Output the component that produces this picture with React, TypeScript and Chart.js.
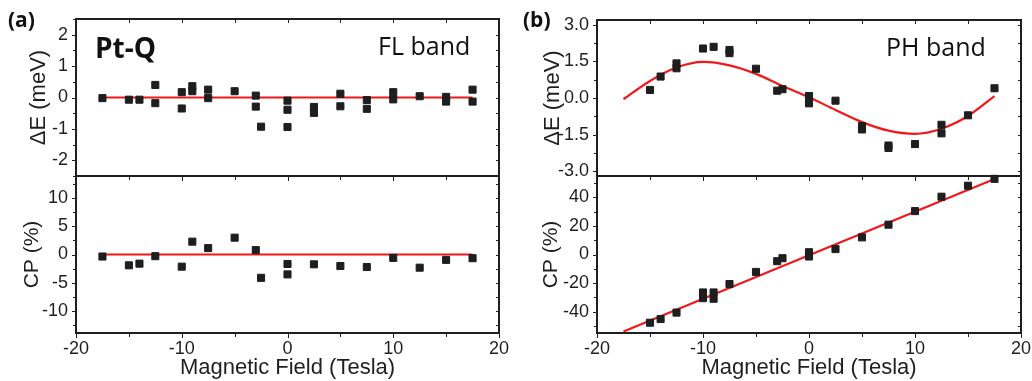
import React, { useEffect, useRef, useState } from 'react';
import { Chart, registerables } from 'chart.js';

Chart.register(...registerables);

// ---------- data ----------
const X_MAJOR = [-20, -10, 0, 10, 20];
const X_ALL_TICKS = [-20, -15, -10, -5, 0, 5, 10, 15, 20];

// Panel (a) FL band, ΔE
const FL_DE_X = [-17.5, -15, -14, -12.5, -12.5, -10, -10, -9, -9, -7.5, -7.5, -5, -3, -3, -2.5, 0, 0, 0, 2.5, 2.5, 5, 5, 7.5, 7.5, 10, 10, 12.5, 15, 15, 17.5, 17.5];
const FL_DE_Y = [-0.02, -0.07, -0.07, 0.4, -0.18, 0.17, -0.35, 0.36, 0.2, 0.25, -0.02, 0.2, 0.06, -0.29, -0.93, -0.1, -0.39, -0.94, -0.3, -0.49, 0.12, -0.28, -0.08, -0.36, 0.17, -0.06, 0.04, 0.02, -0.13, 0.25, -0.13];
const FL_DE_FIT_X = [-17.5, 17.5];
const FL_DE_FIT_Y = [0, 0];
const FL_DE_MAJOR = [-2, -1, 0, 1, 2];
const FL_DE_ALL = [-2.5, -2, -1.5, -1, -0.5, 0, 0.5, 1, 1.5, 2, 2.5];

// Panel (a) FL band, CP
const FL_CP_X = [-17.5, -15, -14, -12.5, -10, -9, -7.5, -5, -3, -2.5, 0, 0, 2.5, 5, 7.5, 10, 12.5, 15, 17.5];
const FL_CP_Y = [-0.36, -1.93, -1.63, -0.3, -2.17, 2.29, 1.14, 3.0, 0.78, -4.16, -1.69, -3.55, -1.75, -2.05, -2.23, -0.6, -2.35, -0.96, -0.66];
const FL_CP_FIT_X = [-17.5, 17.5];
const FL_CP_FIT_Y = [0, 0];
const FL_CP_MAJOR = [-10, -5, 0, 5, 10];
const FL_CP_ALL = [-12.5, -10, -7.5, -5, -2.5, 0, 2.5, 5, 7.5, 10, 12.5];

// Panel (b) PH band, ΔE
const PH_DE_X = [-15, -14, -12.5, -12.5, -10, -9, -7.5, -7.5, -5, -3, -2.5, 0, 0, 2.5, 5, 5, 7.5, 7.5, 10, 12.5, 12.5, 15, 17.5];
const PH_DE_Y = [0.33, 0.88, 1.42, 1.22, 2.03, 2.1, 1.97, 1.84, 1.2, 0.3, 0.36, 0.08, -0.22, -0.11, -1.15, -1.29, -1.95, -2.05, -1.89, -1.1, -1.45, -0.71, 0.4];
const PH_DE_FIT_X = [-17.5, -15, -12.5, -10, -7.5, -5, -2.5, 0, 2.5, 5, 7.5, 10, 12.5, 15, 17.5];
const PH_DE_FIT_Y = [-0.05, 0.7, 1.25, 1.48, 1.34, 0.99, 0.49, 0.03, -0.49, -0.99, -1.34, -1.47, -1.26, -0.74, 0.08];
const PH_DE_MAJOR = [-3, -1.5, 0, 1.5, 3];
const PH_DE_ALL = [-3, -2.25, -1.5, -0.75, 0, 0.75, 1.5, 2.25, 3];

// Panel (b) PH band, CP
const PH_CP_X = [-15, -14, -12.5, -10, -10, -9, -9, -7.5, -5, -3, -2.5, 0, 0, 2.5, 5, 7.5, 10, 12.5, 15, 17.5];
const PH_CP_Y = [-47.8, -45.2, -40.7, -26.6, -30.6, -26.6, -31, -20.7, -12.2, -4.7, -2.6, 1.6, -1.4, 3.8, 12, 20.9, 30.4, 40.5, 48.2, 53];
const PH_CP_FIT_X = [-17.5, 17.5];
const PH_CP_FIT_Y = [-53.9, 52.9];
const PH_CP_MAJOR = [-40, -20, 0, 20, 40];
const PH_CP_ALL = [-50, -40, -30, -20, -10, 0, 10, 20, 30, 40, 50];

// ---------- styles ----------
const FONT = "'Liberation Sans', Arial, sans-serif";
const LABEL_FONT = "'Open Sans', 'Noto Sans', sans-serif";
const INK = '#1f1f1f';
const RED = '#f2171b';
const MARK = '#1e1e1e';

const near = (a: number, b: number) => Math.abs(a - b) < 1e-6;
const isMajor = (list: number[], v: number) => list.some((m) => near(m, v));

type TextItem = { text: string; x: number; y: number; font: string };

type PanelSpec = {
  px: number[];
  py: number[];
  fx: number[];
  fy: number[];
  smooth: boolean;
  yMin: number;
  yMax: number;
  yMajor: number[];
  yAll: number[];
  yFmt: (v: number) => string;
  yTitle: string;
  yTitleSize: number;
  yTitleCenter: number;
  yWidth: number;
  showX: boolean;
  xHeight: number;
  padding: { top: number; right: number; left: number; bottom: number };
  texts: TextItem[];
};

function makeTextPlugin(spec: PanelSpec) {
  return {
    id: 'panelText',
    afterDraw(chart: any) {
      const ctx = chart.ctx;
      ctx.save();
      ctx.fillStyle = '#111';
      ctx.textBaseline = 'alphabetic';
      ctx.textAlign = 'left';
      spec.texts.forEach((it) => {
        ctx.font = it.font;
        ctx.fillText(it.text, it.x, it.y);
      });
      ctx.restore();
    },
  };
}

function makeConfig(s: PanelSpec): any {
  const pts = s.px.map((x, i) => ({ x, y: s.py[i] }));
  const fit = s.fx.map((x, i) => ({ x, y: s.fy[i] }));
  return {
    type: 'scatter',
    data: {
      datasets: [
        {
          data: pts,
          pointStyle: 'rect',
          pointRadius: 5,
          borderWidth: 1,
          backgroundColor: MARK,
          borderColor: MARK,
          showLine: false,
          clip: false,
        },
        {
          data: fit,
          showLine: true,
          borderColor: RED,
          borderWidth: 2.2,
          pointRadius: 0,
          cubicInterpolationMode: s.smooth ? 'monotone' : 'default',
          fill: false,
          clip: false,
        },
      ],
    },
    options: {
      responsive: false,
      animation: false,
      layout: { padding: s.padding },
      plugins: {
        legend: { display: false },
        tooltip: { enabled: false },
      },
      scales: {
        x: {
          type: 'linear',
          min: -20,
          max: 20,
          grid: { display: false, drawTicks: false },
          border: { display: false },
          afterBuildTicks: (sc: any) => {
            sc.ticks = X_MAJOR.map((v) => ({ value: v }));
          },
          ticks: {
            display: s.showX,
            autoSkip: false,
            maxRotation: 0,
            padding: 5,
            color: INK,
            font: { family: FONT, size: 18 },
            callback: (v: any) => String(v),
          },
          title: {
            display: s.showX,
            text: 'Magnetic Field (Tesla)',
            color: INK,
            font: { family: FONT, size: 22, lineHeight: 1 },
            padding: { top: 0, bottom: 2 },
          },
          afterFit: (sc: any) => {
            sc.height = s.xHeight;
          },
        },
        y: {
          type: 'linear',
          min: s.yMin,
          max: s.yMax,
          grid: { display: false, drawTicks: false },
          border: { display: false },
          afterBuildTicks: (sc: any) => {
            sc.ticks = s.yMajor.map((v) => ({ value: v }));
          },
          ticks: {
            autoSkip: false,
            padding: 8,
            color: INK,
            font: { family: FONT, size: 18 },
            callback: (v: any) => s.yFmt(Number(v)),
          },
          title: {
            display: true,
            text: s.yTitle,
            color: INK,
            font: { family: FONT, size: s.yTitleSize, lineHeight: 1 },
            padding: { top: s.yTitleCenter - s.yTitleSize / 2, bottom: 0 },
          },
          afterFit: (sc: any) => {
            sc.width = s.yWidth;
          },
        },
      },
    },
    plugins: [makeTextPlugin(s)],
  };
}

type Geom = {
  L: number;
  R: number;
  T: number;
  B: number;
  xt: { p: number; major: boolean }[];
  yt: { p: number; major: boolean }[];
};

function Panel({ left, top, width, height, spec }: { left: number; top: number; width: number; height: number; spec: PanelSpec }) {
  const ref = useRef<HTMLCanvasElement>(null);
  const [geom, setGeom] = useState<Geom | null>(null);
  useEffect(() => {
    const chart: any = new Chart(ref.current as HTMLCanvasElement, makeConfig(spec));
    const a = chart.chartArea;
    const xs = chart.scales.x;
    const ys = chart.scales.y;
    setGeom({
      L: Math.round(a.left),
      R: Math.round(a.right),
      T: Math.round(a.top),
      B: Math.round(a.bottom),
      xt: X_ALL_TICKS.map((v) => ({ p: Math.round(xs.getPixelForValue(v)), major: isMajor(X_MAJOR, v) })),
      yt: spec.yAll.map((v) => ({ p: Math.round(ys.getPixelForValue(v)), major: isMajor(spec.yMajor, v) })),
    });
    return () => chart.destroy();
  }, []);

  const line = (key: string, x: number, y: number, w: number, h: number) => (
    <div key={key} style={{ position: 'absolute', left: left + x, top: top + y, width: w, height: h, background: INK }} />
  );

  const overlay: React.ReactNode[] = [];
  if (geom) {
    const { L, R, T, B } = geom;
    const W = 1.5;
    overlay.push(line('ft', L - W / 2, T - W / 2, R - L + W, W));
    overlay.push(line('fb', L - W / 2, B - W / 2, R - L + W, W));
    overlay.push(line('fl', L - W / 2, T - W / 2, W, B - T + W));
    overlay.push(line('fr', R - W / 2, T - W / 2, W, B - T + W));
    geom.xt.forEach((t, i) => {
      overlay.push(line('xb' + i, t.p - 0.5, B, 1, t.major ? 4.5 : 3.5));
      overlay.push(line('xt' + i, t.p - 0.5, T, 1, 3.5));
    });
    geom.yt.forEach((t, i) => {
      const len = t.major ? 4.5 : 3;
      overlay.push(line('yl' + i, L - len, t.p - 0.5, len, 1));
      overlay.push(line('yr' + i, R - 3.5, t.p - 0.5, 3.5, 1));
    });
  }

  return (
    <>
      <canvas
        ref={ref}
        width={width}
        height={height}
        style={{ position: 'absolute', left, top, width, height }}
      />
      {overlay}
    </>
  );
}

const intFmt = (v: number) => String(v);
const oneDec = (v: number) => v.toFixed(1);

// canvases: top panels start at y=-20 (clipped), bottom panels at y=146
export default function App() {
  const aTop: PanelSpec = {
    px: FL_DE_X, py: FL_DE_Y, fx: FL_DE_FIT_X, fy: FL_DE_FIT_Y, smooth: false,
    yMin: -2.5, yMax: 2.5, yMajor: FL_DE_MAJOR, yAll: FL_DE_ALL, yFmt: intFmt,
    yTitle: 'ΔE (meV)', yTitleSize: 22, yTitleCenter: 39, yWidth: 76, showX: false, xHeight: 30,
    padding: { top: 39, right: 21, left: 0, bottom: 0 },
    texts: [
      { text: '(a)', x: 8, y: 47, font: `bold 21px ${LABEL_FONT}` },
      { text: 'Pt-Q', x: 95, y: 78, font: `bold 28px ${LABEL_FONT}` },
      { text: 'FL band', x: 378, y: 75, font: `25px ${LABEL_FONT}` },
    ],
  };
  const aBot: PanelSpec = {
    px: FL_CP_X, py: FL_CP_Y, fx: FL_CP_FIT_X, fy: FL_CP_FIT_Y, smooth: false,
    yMin: -14, yMax: 14, yMajor: FL_CP_MAJOR, yAll: FL_CP_ALL, yFmt: intFmt,
    yTitle: 'CP (%)', yTitleSize: 21, yTitleCenter: 32, yWidth: 76, showX: true, xHeight: 48,
    padding: { top: 30, right: 21, left: 0, bottom: 0 },
    texts: [],
  };
  const bTop: PanelSpec = {
    px: PH_DE_X, py: PH_DE_Y, fx: PH_DE_FIT_X, fy: PH_DE_FIT_Y, smooth: true,
    yMin: -3.2, yMax: 3.2, yMajor: PH_DE_MAJOR, yAll: PH_DE_ALL, yFmt: oneDec,
    yTitle: 'ΔE (meV)', yTitleSize: 22, yTitleCenter: 33, yWidth: 77, showX: false, xHeight: 30,
    padding: { top: 40, right: 21, left: 0, bottom: 0 },
    texts: [
      { text: '(b)', x: 3, y: 47, font: `bold 21px ${LABEL_FONT}` },
      { text: 'PH band', x: 366, y: 76, font: `25px ${LABEL_FONT}` },
    ],
  };
  const bBot: PanelSpec = {
    px: PH_CP_X, py: PH_CP_Y, fx: PH_CP_FIT_X, fy: PH_CP_FIT_Y, smooth: false,
    yMin: -55, yMax: 55, yMajor: PH_CP_MAJOR, yAll: PH_CP_ALL, yFmt: intFmt,
    yTitle: 'CP (%)', yTitleSize: 21, yTitleCenter: 31, yWidth: 77, showX: true, xHeight: 48,
    padding: { top: 30, right: 21, left: 0, bottom: 0 },
    texts: [],
  };
  return (
    <div style={{ position: 'absolute', left: 0, top: 0, width: 1032, height: 381, overflow: 'hidden', background: '#fff' }}>
      <Panel left={0} top={-20} width={520} height={226} spec={aTop} />
      <Panel left={0} top={146} width={520} height={235} spec={aBot} />
      <Panel left={520} top={-20} width={522} height={226} spec={bTop} />
      <Panel left={520} top={146} width={522} height={235} spec={bBot} />
    </div>
  );
}
